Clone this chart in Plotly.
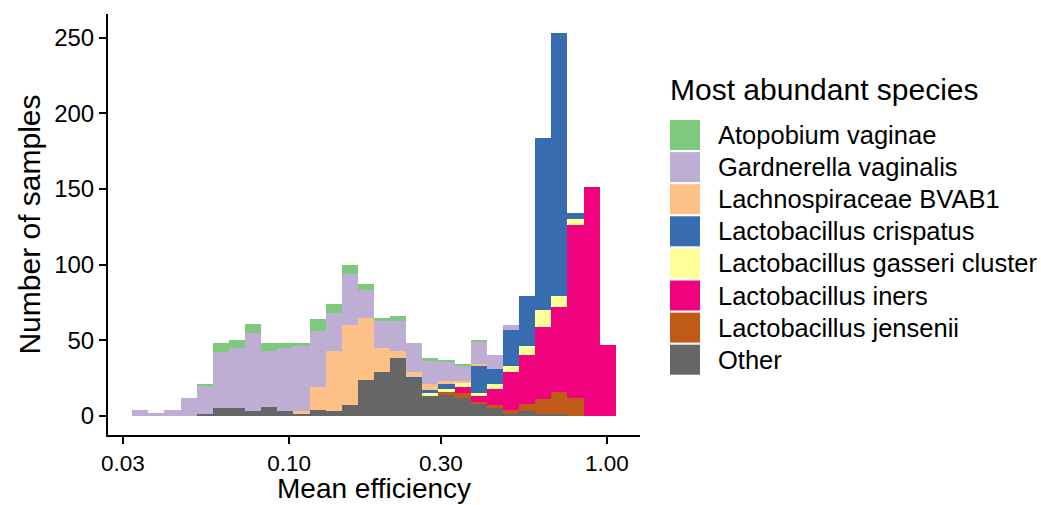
import numpy as np
import plotly.graph_objects as go

# ---- data ----
bin_centers = [0.03400, 0.03821, 0.04294, 0.04827, 0.05425, 0.06096, 0.06852, 0.07701,
               0.08655, 0.09726, 0.10932, 0.12286, 0.13807, 0.15518, 0.17440, 0.19600,
               0.22029, 0.24758, 0.27824, 0.31272, 0.35156, 0.39510, 0.44401, 0.49899,
               0.56085, 0.63030, 0.70842, 0.79615, 0.89500, 1.00577]
bin_width_log10 = 0.05073

species = ["Atopobium vaginae", "Gardnerella vaginalis", "Lachnospiraceae BVAB1",
           "Lactobacillus crispatus", "Lactobacillus gasseri cluster", "Lactobacillus iners",
           "Lactobacillus jensenii", "Other"]
colors = ["#7FC97F", "#BEAED4", "#FDC086", "#386CB0", "#FFFF99", "#F0027F", "#BF5B17", "#666666"]

other      = [0,0,0,0,1,5,5,3,6,3,1,4,3,7,24,29,38,25,13,14,12,8,5,1,3,1,1,0,0,0]
jensenii   = [0,0,0,0,0,0,0,0,0,0,0,0,0,0,0,0,0,0,0,2,3,1,2,3,5,10,15,12,0,0]
iners      = [0,0,0,0,0,0,0,0,0,0,0,0,0,0,0,0,0,0,0,0,4,4,11,25,32,48,56,114,151,47]
gasseri    = [0,0,0,0,0,0,0,0,0,0,0,0,0,0,0,0,0,0,2,2,3,2,3,4,6,11,7,4,0,0]
crispatus  = [0,0,0,0,0,0,0,0,0,0,0,0,0,0,0,0,0,1,2,3,0,18,10,24,33,114,174,4,0,0]
bvab1      = [0,0,0,0,0,0,0,0,0,0,2,15,40,53,41,16,5,3,4,2,1,1,0,0,0,0,0,0,0,0]
gardnerella= [4,2,4,12,19,37,40,52,37,42,43,37,25,34,18,18,20,19,15,13,10,15,9,3,0,0,0,0,0,0]
atopobium  = [0,0,0,0,1,6,5,6,5,3,2,8,6,6,4,2,3,0,2,1,1,1,0,0,0,0,0,0,0,0]

x_ticks = [0.03, 0.10, 0.30, 1.00]
x_tick_labels = ["0.03", "0.10", "0.30", "1.00"]
y_ticks = [0, 50, 100, 150, 200, 250]

series = {
    "Other": other,
    "Lactobacillus jensenii": jensenii,
    "Lactobacillus iners": iners,
    "Lactobacillus gasseri cluster": gasseri,
    "Lactobacillus crispatus": crispatus,
    "Lachnospiraceae BVAB1": bvab1,
    "Gardnerella vaginalis": gardnerella,
    "Atopobium vaginae": atopobium,
}
color_of = dict(zip(species, colors))

FONT = "Liberation Sans, Arial, Helvetica, sans-serif"
W, H = 1041, 505
L, R, T, B = 108, 401, 14, 70

xlog = np.log10(bin_centers)
fig = go.Figure()
for name, vals in series.items():
    fig.add_trace(go.Bar(
        x=xlog, y=vals, width=bin_width_log10, name=name,
        marker=dict(color=color_of[name], line=dict(width=0)),
        showlegend=False,
    ))

# x range: bar extent plus 5% expansion (ggplot default)
lo = xlog[0] - bin_width_log10 / 2
hi = xlog[-1] + bin_width_log10 / 2
pad = 0.05 * (hi - lo)
ymax = max(np.sum(list(series.values()), axis=0))

fig.update_layout(
    width=W, height=H,
    margin=dict(l=L, r=R, t=T, b=B, pad=0),
    plot_bgcolor="white", paper_bgcolor="white",
    barmode="stack", bargap=0,
    font=dict(family=FONT, color="black"),
    xaxis=dict(
        range=[lo - pad, hi + pad],
        tickvals=np.log10(x_ticks), ticktext=x_tick_labels,
        ticks="outside", ticklen=7, tickwidth=2, tickcolor="black",
        showline=True, linewidth=2, linecolor="black",
        showgrid=False, zeroline=False, automargin=False,
        tickfont=dict(size=22.5, color="black"),
    ),
    yaxis=dict(
        range=[-0.05 * ymax, 1.05 * ymax],
        tickvals=y_ticks,
        ticks="outside", ticklen=7, tickwidth=2, tickcolor="black",
        showline=True, linewidth=2, linecolor="black",
        showgrid=False, zeroline=False, automargin=False,
        tickfont=dict(size=24, color="black"),
        title=dict(text="Number of samples", font=dict(size=30), standoff=5),
    ),
)

pw = W - L - R
ph = H - T - B
def px(x):
    return (x - L) / pw
def py(y):
    return (H - B - y) / ph

# x-axis title (as annotation to sit low like the reference)
fig.add_annotation(xref="paper", yref="paper", x=0.5, y=py(505),
                   text="Mean efficiency", showarrow=False,
                   xanchor="center", yanchor="bottom", borderpad=0,
                   font=dict(size=28, family=FONT, color="black"))

# ---- legend drawn as shapes and text (large ggplot-style keys) ----
key_x0, key_x1 = 670, 700
key_top0, key_h, key_pitch = 120, 30, 32.1
for i, name in enumerate(species):
    top = key_top0 + i * key_pitch
    fig.add_shape(type="rect", xref="paper", yref="paper",
                  x0=px(key_x0), x1=px(key_x1), y0=py(top + key_h), y1=py(top),
                  fillcolor=colors[i], line=dict(width=0), layer="above")
    fig.add_annotation(xref="paper", yref="paper", x=px(716), y=py(top + key_h / 2),
                       text=name, showarrow=False, xanchor="left", yanchor="middle",
                       font=dict(size=25.5, family=FONT, color="black"))
fig.add_annotation(xref="paper", yref="paper", x=px(668), y=py(89),
                   text="Most abundant species", showarrow=False,
                   xanchor="left", yanchor="middle",
                   font=dict(size=30, family=FONT, color="black"))

fig.write_html("out.html")
